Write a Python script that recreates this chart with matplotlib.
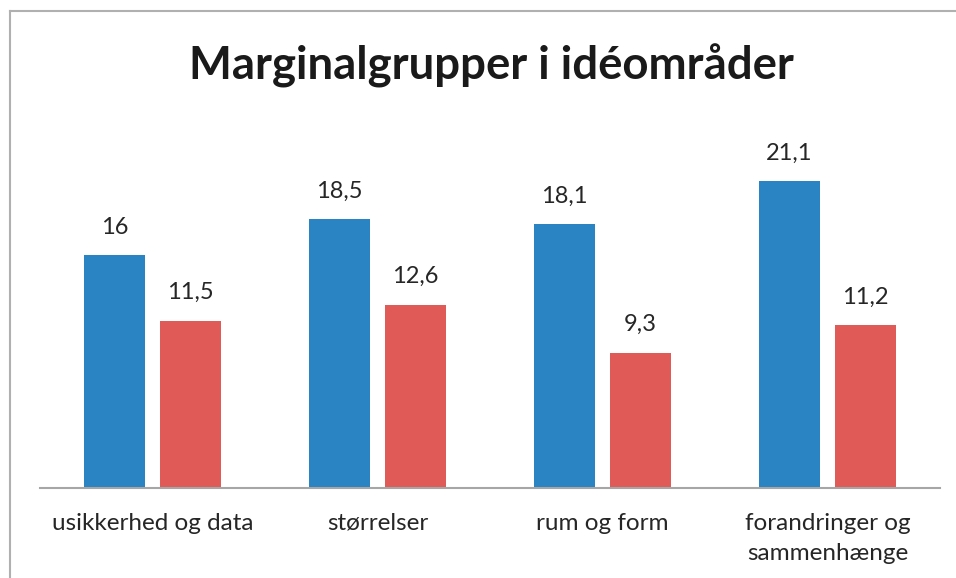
import matplotlib
matplotlib.use("Agg")
import matplotlib.pyplot as plt
import numpy as np
from matplotlib.lines import Line2D

plt.rcParams['font.family'] = ['Lato', 'DejaVu Sans']

categories = ["usikkerhed og data", "størrelser", "rum og form", "forandringer og\nsammenhænge"]
series_blue = [16, 18.5, 18.1, 21.1]
series_red = [11.5, 12.6, 9.3, 11.2]
title = "Marginalgrupper i idéområder"

blue = "#2a83c2"
red = "#e05a57"

fig = plt.figure(figsize=(9.56, 5.78), dpi=100)
ax = fig.add_axes([40/956, 90/578, 900/956, 349.4/578])

x = np.arange(len(categories))
w = 0.267
off = 0.169
b1 = ax.bar(x - off, series_blue, width=w, color=blue)
b2 = ax.bar(x + off, series_red, width=w, color=red)

def fmt(v):
    s = f"{v:g}"
    return s.replace(".", ",")

for bars, vals in ((b1, series_blue), (b2, series_red)):
    for r, v in zip(bars, vals):
        ax.annotate(fmt(v), (r.get_x() + r.get_width()/2, v), xytext=(0, 20),
                    textcoords="offset points", ha="center", va="center",
                    fontsize=17, color="#262626")

ax.set_xlim(-0.5, len(categories) - 0.5)
ax.set_ylim(0, 24)
ax.set_xticks(x)
ax.set_xticklabels(categories, fontsize=17.5, color="#262626", linespacing=1.5, va="top")
ax.tick_params(axis="x", length=0, pad=18)
ax.set_yticks([])
for s in ("top", "right", "left"):
    ax.spines[s].set_visible(False)
ax.spines["bottom"].set_color("#a6a6a6")
ax.spines["bottom"].set_linewidth(1.5)

fig.text(491/956, 1 - 66/578, title, ha="center", va="center",
         fontsize=32.8, fontweight="bold", color="#1a1a1a")

# outer chart border (top and left visible)
fig.add_artist(Line2D([10/956, 10/956], [0, 1 - 11/578], transform=fig.transFigure,
                      color="#b0b0b0", lw=1.5))
fig.add_artist(Line2D([10/956, 1], [1 - 11/578, 1 - 11/578], transform=fig.transFigure,
                      color="#b0b0b0", lw=1.5))

fig.savefig("out.png", dpi=100)
